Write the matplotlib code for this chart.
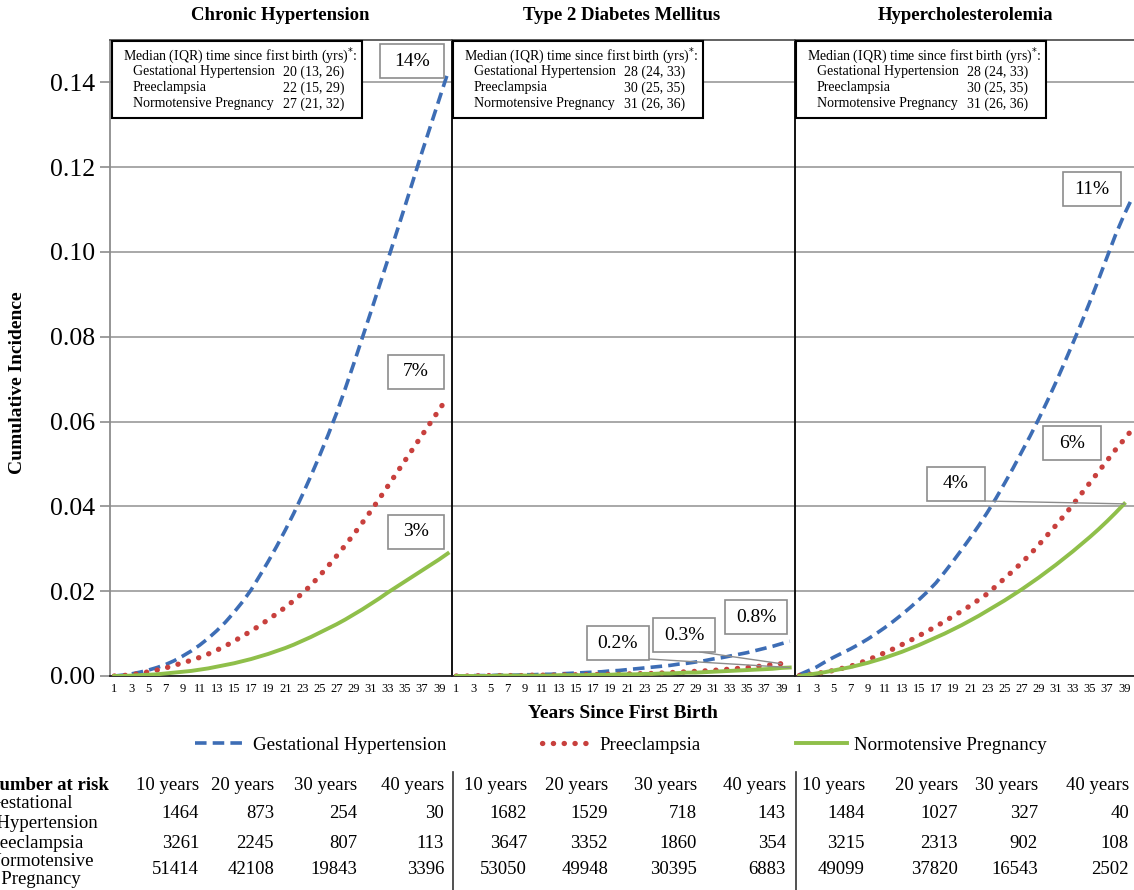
import matplotlib
matplotlib.use("Agg")
import matplotlib.pyplot as plt
from matplotlib.patches import Rectangle, ConnectionPatch
from matplotlib.lines import Line2D

plt.rcParams['font.family'] = ['Liberation Serif', 'DejaVu Serif']

# ---------------- data ----------------
titles = ['Chronic Hypertension', 'Type 2 Diabetes Mellitus', 'Hypercholesterolemia']
series_names = ['Gestational Hypertension', 'Preeclampsia', 'Normotensive Pregnancy']

# cumulative incidence by year since first birth
cht_gh = [0.0000, 0.0002, 0.0005, 0.0009, 0.0014, 0.0020, 0.0027, 0.0036, 0.0047, 0.0059,
          0.0073, 0.0089, 0.0107, 0.0127, 0.0150, 0.0175, 0.0203, 0.0236, 0.0270, 0.0306,
          0.0344, 0.0384, 0.0427, 0.0472, 0.0519, 0.0568, 0.0620, 0.0677, 0.0736, 0.0797,
          0.0858, 0.0920, 0.0982, 0.1045, 0.1108, 0.1172, 0.1236, 0.1298, 0.1360, 0.1422]
cht_pe = [0.0000, 0.0001, 0.0003, 0.0006, 0.0010, 0.0014, 0.0019, 0.0025, 0.0031, 0.0037,
          0.0044, 0.0052, 0.0061, 0.0071, 0.0082, 0.0094, 0.0106, 0.0119, 0.0133, 0.0147,
          0.0162, 0.0178, 0.0195, 0.0214, 0.0236, 0.0259, 0.0283, 0.0308, 0.0334, 0.0361,
          0.0389, 0.0418, 0.0448, 0.0478, 0.0508, 0.0538, 0.0568, 0.0598, 0.0628, 0.0658]
cht_np = [0.0000, 0.0000, 0.0001, 0.0002, 0.0003, 0.0004, 0.0006, 0.0008, 0.0010, 0.0012,
          0.0015, 0.0018, 0.0022, 0.0026, 0.0030, 0.0035, 0.0040, 0.0046, 0.0052, 0.0059,
          0.0066, 0.0074, 0.0083, 0.0092, 0.0102, 0.0112, 0.0122, 0.0133, 0.0145, 0.0157,
          0.0170, 0.0183, 0.0197, 0.0210, 0.0223, 0.0236, 0.0249, 0.0262, 0.0275, 0.0289]

t2d_gh = [0.0000, 0.0000, 0.0001, 0.0001, 0.0001, 0.0002, 0.0002, 0.0002, 0.0003, 0.0003,
          0.0004, 0.0004, 0.0005, 0.0006, 0.0007, 0.0008, 0.0009, 0.0010, 0.0012, 0.0013,
          0.0015, 0.0017, 0.0019, 0.0021, 0.0023, 0.0025, 0.0028, 0.0030, 0.0033, 0.0036,
          0.0040, 0.0043, 0.0047, 0.0051, 0.0055, 0.0060, 0.0065, 0.0070, 0.0076, 0.0082]
t2d_pe = [0.0000, 0.0000, 0.0000, 0.0001, 0.0001, 0.0001, 0.0001, 0.0001, 0.0001, 0.0002,
          0.0002, 0.0002, 0.0002, 0.0003, 0.0003, 0.0003, 0.0003, 0.0004, 0.0004, 0.0004,
          0.0005, 0.0005, 0.0006, 0.0006, 0.0007, 0.0008, 0.0009, 0.0010, 0.0011, 0.0012,
          0.0013, 0.0015, 0.0016, 0.0018, 0.0020, 0.0022, 0.0024, 0.0027, 0.0029]
t2d_np = [0.0000, 0.0000, 0.0000, 0.0000, 0.0000, 0.0001, 0.0001, 0.0001, 0.0001, 0.0001,
          0.0001, 0.0001, 0.0002, 0.0002, 0.0002, 0.0002, 0.0003, 0.0003, 0.0003, 0.0004,
          0.0004, 0.0004, 0.0005, 0.0005, 0.0006, 0.0006, 0.0007, 0.0008, 0.0008, 0.0009,
          0.0010, 0.0011, 0.0012, 0.0013, 0.0014, 0.0015, 0.0016, 0.0017, 0.0019, 0.0020]

hc_gh = [0.0003, 0.0012, 0.0021, 0.0033, 0.0044, 0.0054, 0.0064, 0.0075, 0.0087, 0.0100,
         0.0114, 0.0129, 0.0145, 0.0162, 0.0180, 0.0199, 0.0220, 0.0245, 0.0271, 0.0298,
         0.0326, 0.0355, 0.0386, 0.0419, 0.0454, 0.0490, 0.0528, 0.0566, 0.0606, 0.0648,
         0.0692, 0.0738, 0.0785, 0.0833, 0.0883, 0.0935, 0.0988, 0.1041, 0.1088, 0.1130]
hc_pe = [0.0001, 0.0003, 0.0006, 0.0009, 0.0013, 0.0018, 0.0023, 0.0030, 0.0038, 0.0046,
         0.0055, 0.0064, 0.0074, 0.0084, 0.0095, 0.0106, 0.0117, 0.0129, 0.0141, 0.0153,
         0.0166, 0.0180, 0.0194, 0.0212, 0.0230, 0.0248, 0.0267, 0.0287, 0.0309, 0.0332,
         0.0355, 0.0379, 0.0404, 0.0430, 0.0456, 0.0482, 0.0508, 0.0534, 0.0558, 0.0583]
hc_np = [0.0000, 0.0003, 0.0006, 0.0009, 0.0013, 0.0017, 0.0021, 0.0026, 0.0031, 0.0037,
         0.0043, 0.0050, 0.0057, 0.0065, 0.0073, 0.0082, 0.0091, 0.0100, 0.0110, 0.0120,
         0.0131, 0.0142, 0.0154, 0.0166, 0.0178, 0.0191, 0.0204, 0.0218, 0.0232, 0.0247,
         0.0262, 0.0278, 0.0294, 0.0311, 0.0328, 0.0346, 0.0365, 0.0385, 0.0406]

panel_data = [[cht_gh, cht_pe, cht_np], [t2d_gh, t2d_pe, t2d_np], [hc_gh, hc_pe, hc_np]]

median_rows = [['20 (13, 26)', '22 (15, 29)', '27 (21, 32)'],
               ['28 (24, 33)', '30 (25, 35)', '31 (26, 36)'],
               ['28 (24, 33)', '30 (25, 35)', '31 (26, 36)']]

risk_cols = ['10 years', '20 years', '30 years', '40 years']
risk_gh = [[1464, 873, 254, 30], [1682, 1529, 718, 143], [1484, 1027, 327, 40]]
risk_pe = [[3261, 2245, 807, 113], [3647, 3352, 1860, 354], [3215, 2313, 902, 108]]
risk_np = [[51414, 42108, 19843, 3396], [53050, 49948, 30395, 6883], [49099, 37820, 16543, 2502]]

yticks = [0.00, 0.02, 0.04, 0.06, 0.08, 0.10, 0.12, 0.14]
xticks = list(range(1, 40, 2))

colors = ['#3d6db5', '#c8403d', '#8fbf4a']

# ---------------- layout helpers (pixel coords of a 1134x890 canvas) ----------------
W, H = 1134, 890
def fx(px):
    return px / W
def fy(py):
    return 1 - py / H

fig = plt.figure(figsize=(W / 100, H / 100), dpi=100)

panel_left = [110, 452, 795]
axes = []
for i in range(3):
    ax = fig.add_axes([fx(panel_left[i]), fy(676), 342 / W, 636 / H])
    axes.append(ax)
    years = list(range(1, 41))
    gh, pe, np_ = panel_data[i]
    ax.plot(years[:len(gh)], gh, color=colors[0], lw=2.6, dashes=(3.2, 1.7), zorder=3)
    ax.plot(years[:len(pe)], pe, color=colors[1], lw=3.8, ls=(0, (0.05, 2.0)),
            dash_capstyle='round', zorder=3)
    ax.plot(years[:len(np_)], np_, color=colors[2], lw=2.8, zorder=3)
    ax.set_xlim(0.5, 40.5)
    ax.set_ylim(0, 0.15)
    ax.set_yticks(yticks)
    ax.yaxis.grid(True, color='#a8a8a8', lw=1.4)
    ax.set_axisbelow(True)
    ax.set_xticks(xticks)
    ax.set_xticklabels([str(x) for x in xticks], fontsize=9)
    ax.tick_params(axis='x', length=0, pad=5)
    for s in ['top', 'right', 'left', 'bottom']:
        ax.spines[s].set_linewidth(1.3)
    ax.spines['top'].set_color('#555555')
    ax.spines['bottom'].set_color('#222222')
    ax.spines['right'].set_visible(False)
    if i == 0:
        ax.spines['left'].set_color('#8c8c8c')
        ax.set_yticklabels(['%.2f' % v for v in yticks], fontsize=18.5)
        ax.tick_params(axis='y', length=7, color='#8c8c8c', width=1.2, pad=4)
    else:
        ax.spines['left'].set_color('black')
        ax.tick_params(axis='y', length=0, labelleft=False)
    fig.text(fx(panel_left[i] + 170), fy(16), titles[i], ha='center', va='center',
             fontsize=13.5, fontweight='bold')

# median (IQR) boxes
box_left = [112, 453, 796]
for i in range(3):
    bl = box_left[i]
    fig.add_artist(Rectangle((fx(bl), fy(118)), 250 / W, 77 / H, transform=fig.transFigure,
                             facecolor='white', edgecolor='black', lw=1.5, zorder=5))
    fig.text(fx(bl + 11), fy(56), 'Median (IQR) time since first birth (yrs)$^{*}$:',
             fontsize=10, va='center', zorder=6)
    for j in range(3):
        fig.text(fx(bl + 21), fy(72 + 16 * j), series_names[j], fontsize=10, va='center', zorder=6)
        fig.text(fx(bl + 171), fy(72 + 16 * j), median_rows[i][j], fontsize=10, va='center', zorder=6)

# percentage labels: (panel, text, center x px, center y px, width px)
pct_labels = [(0, '14%', 412, 61, 64), (0, '7%', 416, 372, 57), (0, '3%', 416, 532, 57),
              (1, '0.2%', 618, 643, 62), (1, '0.3%', 684, 635, 62), (1, '0.8%', 756, 617, 62),
              (2, '11%', 1092, 189, 58), (2, '6%', 1072, 443, 58), (2, '4%', 956, 484, 58)]
for p, txt, cx, cy, bw in pct_labels:
    fig.add_artist(Rectangle((fx(cx - bw / 2), fy(cy + 17)), bw / W, 34 / H, transform=fig.transFigure,
                             facecolor='white', edgecolor='#8c8c8c', lw=1.2, zorder=5))
    fig.text(fx(cx), fy(cy), txt, ha='center', va='center', fontsize=14, zorder=6)

# leader lines to series end points
leaders = [((649, 659), 1, 2), ((700, 652), 1, 1), ((985, 501), 2, 2)]
for (lx, ly), p, s in leaders:
    vals = panel_data[p][s]
    con = ConnectionPatch(xyA=(fx(lx), fy(ly)), coordsA='figure fraction',
                          xyB=(len(vals), vals[-1]), coordsB='data', axesB=axes[p],
                          color='#8c8c8c', lw=1.0, zorder=4)
    fig.add_artist(con)

fig.text(fx(18), fy(383), 'Cumulative Incidence', rotation=90, ha='center', va='center',
         fontsize=14, fontweight='bold')
fig.text(fx(623), fy(714), 'Years Since First Birth', ha='center', va='center',
         fontsize=14, fontweight='bold')

# legend
handles = [Line2D([], [], color=colors[0], lw=2.6, dashes=(3.2, 1.7)),
           Line2D([], [], color=colors[1], lw=3.8, ls=(0, (0.05, 2.0)), dash_capstyle='round'),
           Line2D([], [], color=colors[2], lw=2.8)]
fig.legend(handles, series_names, loc='center', bbox_to_anchor=(fx(621), fy(745)), ncol=3,
           frameon=False, fontsize=13.7, handlelength=2.7, handletextpad=0.35, columnspacing=5.0)

# number at risk table
col_right = [[199, 274, 357, 444], [527, 608, 697, 786], [865, 958, 1038, 1129]]
row_y = [813, 843, 870]
fig.text(fx(-14), fy(785), 'Number at risk', fontsize=13.5, fontweight='bold', va='center')
fig.text(fx(-13), fy(803), 'Gestational', fontsize=13.5, va='center')
fig.text(fx(-13), fy(823), '  Hypertension', fontsize=13.5, va='center')
fig.text(fx(-17), fy(843), 'Preeclampsia', fontsize=13.5, va='center')
fig.text(fx(-13), fy(861), 'Normotensive', fontsize=13.5, va='center')
fig.text(fx(-13), fy(880), '   Pregnancy', fontsize=13.5, va='center')
for i in range(3):
    rows = [risk_gh[i], risk_pe[i], risk_np[i]]
    for k in range(4):
        fig.text(fx(col_right[i][k]), fy(785), risk_cols[k], ha='right', va='center', fontsize=13.5)
        for r in range(3):
            fig.text(fx(col_right[i][k]), fy(row_y[r]), str(rows[r][k]), ha='right', va='center',
                     fontsize=13.5)
for sx in [453, 796]:
    fig.add_artist(Line2D([fx(sx), fx(sx)], [fy(772), fy(890)], transform=fig.transFigure,
                          color='#333333', lw=1.2))

fig.savefig('out.png', dpi=100)
